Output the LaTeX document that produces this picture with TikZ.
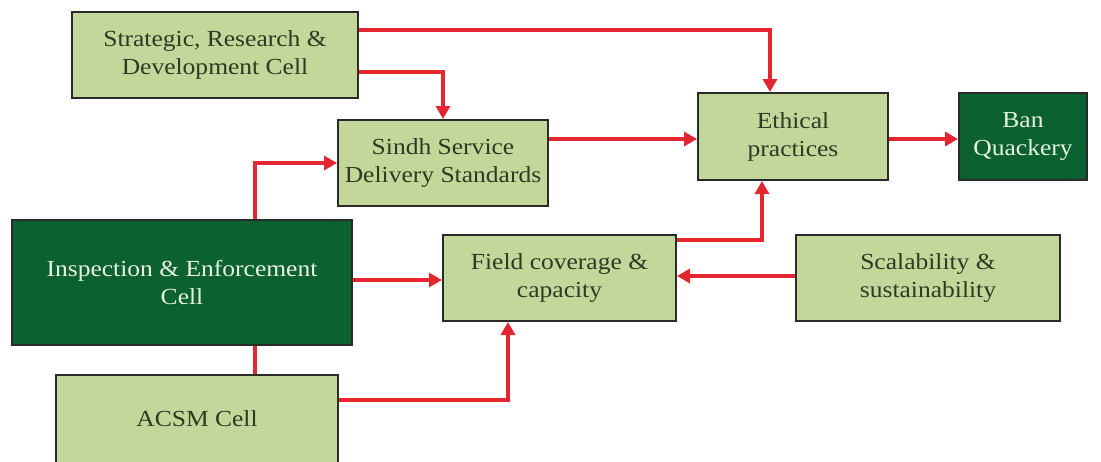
\documentclass[tikz,border=0pt]{standalone}
\usepackage{fontspec}
\setmainfont{Liberation Serif}[FakeStretch=1.11]
\usetikzlibrary{arrows.meta}
\definecolor{lightbox}{HTML}{C4D79B}
\definecolor{darkbox}{HTML}{0B6130}
\definecolor{boxline}{HTML}{2A2A2A}
\definecolor{lighttext}{HTML}{2E3A22}
\definecolor{darktext}{HTML}{E6F2DE}
\definecolor{flow}{HTML}{E3262F}
\begin{document}
\begin{tikzpicture}[x=1pt,y=-1pt,
  cell/.style={draw=boxline, line width=2pt, fill=lightbox, text=lighttext,
    align=center, inner sep=0pt,
    font=\fontsize{23}{28}\selectfont},
  keycell/.style={cell, fill=darkbox, text=darktext},
  arr/.style={draw=flow, line width=3.5pt, -{Triangle[length=13pt,width=14pt]}},
  link/.style={draw=flow, line width=3.5pt}]
\useasboundingbox (0,0) rectangle (1101,461);
\fill[white] (0,0) rectangle (1101,461);

% boxes
\node[cell, minimum width=286pt, minimum height=86pt] (srd) at (215,55)
  {Strategic, Research \&\\Development Cell};
\node[cell, minimum width=210pt, minimum height=86pt] (sindh) at (443,163)
  {Sindh Service\\Delivery Standards};
\node[cell, minimum width=190pt, minimum height=87pt] (eth) at (793,136.5)
  {Ethical\\practices};
\node[keycell, minimum width=128pt, minimum height=87pt] (ban) at (1023,136.5)
  {Ban\\Quackery};
\node[keycell, minimum width=340pt, minimum height=125pt] (insp) at (182,282.5)
  {Inspection \& Enforcement\\Cell};
\node[cell, minimum width=233pt, minimum height=86pt] (field) at (559.5,278)
  {Field coverage \&\\capacity};
\node[cell, minimum width=264pt, minimum height=86pt] (scal) at (928,278)
  {Scalability \&\\sustainability};
\node[cell, minimum width=282pt, minimum height=88pt] (acsm) at (197,419)
  {ACSM Cell};

% connectors
\draw[arr] (srd.east |- 0,30) -| ([xshift=-23pt]eth.north);
\draw[arr] (srd.east |- 0,72) -| (sindh.north);
\draw[arr] (insp.north -| 255,0) |- (sindh.west);
\draw[link] (insp.south -| 255,0) -- (acsm.north -| 255,0);
\draw[arr] (sindh.east |- 0,139) -- (eth.west |- 0,139);
\draw[arr] (eth.east |- 0,139) -- (ban.west |- 0,139);
\draw[arr] (field.east |- 0,240) -| (eth.south -| 762,0);
\draw[arr] (scal.west |- 0,276) -- (field.east |- 0,276);
\draw[arr] (insp.east |- 0,280) -- (field.west |- 0,280);
\draw[arr] (acsm.east |- 0,400) -| (field.south -| 508,0);
\end{tikzpicture}
\end{document}
